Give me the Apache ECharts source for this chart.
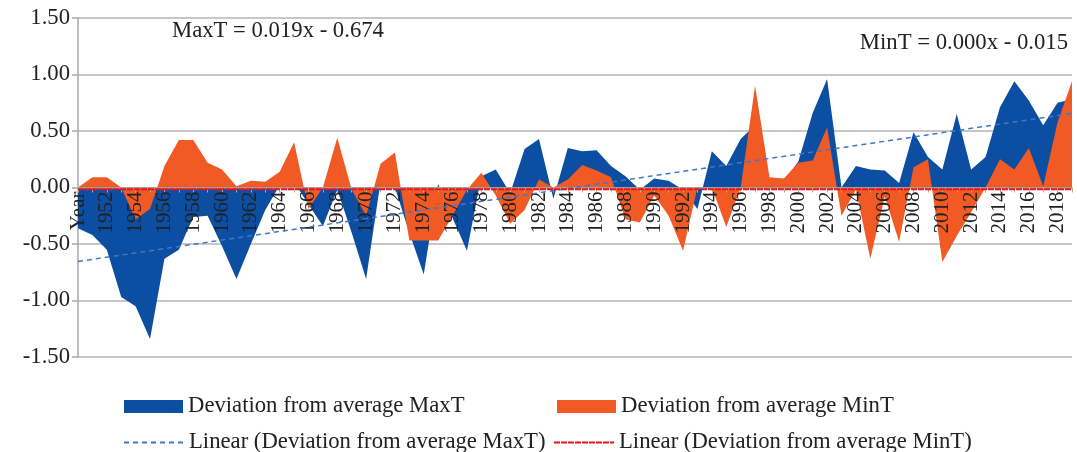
<!DOCTYPE html>
<html>
<head>
<meta charset="utf-8">
<script src="https://cdn.jsdelivr.net/npm/echarts@6/dist/echarts.min.js"></script>
<style>
  html, body { margin: 0; padding: 0; background: #ffffff; }
  #chart { width: 1077px; height: 452px; }
</style>
</head>
<body>
<div id="chart"></div>
<script>
// Category labels: the first slot carries the column header "Year"
const categories = ['Year', '1951', '1952', '1953', '1954', '1955', '1956', '1957', '1958', '1959',
  '1960', '1961', '1962', '1963', '1964', '1965', '1966', '1967', '1968', '1969',
  '1970', '1971', '1972', '1973', '1974', '1975', '1976', '1977', '1978', '1979',
  '1980', '1981', '1982', '1983', '1984', '1985', '1986', '1987', '1988', '1989',
  '1990', '1991', '1992', '1993', '1994', '1995', '1996', '1997', '1998', '1999',
  '2000', '2001', '2002', '2003', '2004', '2005', '2006', '2007', '2008', '2009',
  '2010', '2011', '2012', '2013', '2014', '2015', '2016', '2017', '2018', '2019'];

// Deviation from average maximum temperature
const maxTDeviation = [-0.36, -0.42, -0.55, -0.97, -1.05, -1.34, -0.63, -0.55, -0.26, -0.25,
  -0.52, -0.81, -0.50, -0.20, 0.02, 0.05, -0.15, -0.34, -0.02, -0.40,
  -0.81, 0.05, 0.00, -0.40, -0.77, 0.03, -0.27, -0.56, 0.10, 0.16,
  -0.05, 0.34, 0.43, -0.10, 0.35, 0.32, 0.33, 0.19, 0.10, -0.02,
  0.08, 0.06, -0.02, -0.19, 0.32, 0.19, 0.43, 0.55, 0.05, 0.05,
  0.23, 0.66, 0.96, 0.00, 0.19, 0.16, 0.15, 0.04, 0.49, 0.27,
  0.16, 0.65, 0.16, 0.27, 0.71, 0.94, 0.77, 0.55, 0.75, 0.78];

// Deviation from average minimum temperature
const minTDeviation = [0.00, 0.09, 0.09, 0.00, -0.28, -0.19, 0.19, 0.42, 0.42, 0.22,
  0.16, 0.01, 0.06, 0.05, 0.14, 0.40, -0.19, 0.00, 0.44, -0.02,
  -0.25, 0.21, 0.31, -0.47, -0.47, -0.47, -0.25, -0.02, 0.13, -0.07,
  -0.32, -0.20, 0.07, 0.00, 0.07, 0.20, 0.15, 0.09, -0.28, -0.31,
  -0.07, -0.25, -0.56, 0.00, 0.00, -0.35, 0.00, 0.90, 0.09, 0.08,
  0.22, 0.24, 0.53, -0.25, -0.02, -0.63, -0.08, -0.48, 0.18, 0.25,
  -0.66, -0.43, -0.22, 0.00, 0.25, 0.16, 0.35, 0.01, 0.58, 0.94];

// Linear trend coefficients (x = 1 .. n)
const maxTTrend = { slope: 0.019, intercept: -0.674 };
const minTTrend = { slope: 0.000, intercept: -0.015 };

const yTicks = { min: -1.5, max: 1.5, step: 0.5 };

const names = {
  maxT: 'Deviation from average MaxT',
  minT: 'Deviation from average MinT',
  maxTLin: 'Linear (Deviation from average MaxT)',
  minTLin: 'Linear (Deviation from average MinT)'
};

const BLUE = '#0b4ea2';
const ORANGE = '#f15a24';
const TREND_BLUE = '#3f78c8';
const TREND_RED = '#e8141c';
const SERIF = '"Liberation Serif", "Times New Roman", serif';
const TEXT = '#222222';
const FS = 22.7;

const GRID = { left: 78, right: 5, top: 18, bottom: 95 };
const plotHeight = 452 - GRID.top - GRID.bottom;
// lift the category axis from the bottom edge up to the zero line
const zeroOffset = -plotHeight * (0 - yTicks.min) / (yTicks.max - yTicks.min);

function trendEnds(t) {
  const n = categories.length;
  return [[0, t.slope * 1 + t.intercept], [n - 1, t.slope * n + t.intercept]];
}

const chart = echarts.init(document.getElementById('chart'), null, { renderer: 'canvas' });

function legendAt(name, left, top, w, h) {
  return {
    data: [name], left: left, top: top, padding: 0,
    itemWidth: w, itemHeight: h, itemGap: 0,
    textStyle: { fontFamily: SERIF, fontSize: FS, color: TEXT },
    icon: h > 4 ? 'rect' : undefined,
    selectedMode: false
  };
}

chart.setOption({
  animation: false,
  backgroundColor: '#ffffff',
  grid: Object.assign({ containLabel: false }, GRID),
  xAxis: {
    type: 'category',
    data: categories,
    boundaryGap: false,
    position: 'bottom',
    offset: zeroOffset,
    z: 3,
    axisLine: { onZero: false, lineStyle: { color: '#a8a8a8', width: 1.5 } },
    axisTick: { show: true, interval: 0, length: 5, lineStyle: { color: '#c2ae7c', width: 1 } },
    axisLabel: {
      interval: 1, rotate: 90, margin: 4,
      fontFamily: SERIF, fontSize: 21, color: TEXT
    },
    splitLine: { show: false }
  },
  yAxis: {
    type: 'value',
    min: yTicks.min, max: yTicks.max, interval: yTicks.step,
    axisLine: { show: true, lineStyle: { color: '#a8a8a8', width: 1.5 } },
    axisTick: { show: true, length: 6, lineStyle: { color: '#a8a8a8', width: 1.5 } },
    axisLabel: {
      margin: 8, fontFamily: SERIF, fontSize: FS, color: TEXT,
      formatter: v => v.toFixed(2)
    },
    splitLine: { show: true, lineStyle: { color: '#b4b4b4', width: 1.5 } }
  },
  legend: [
    legendAt(names.maxT, 124, 395, 59, 13),
    legendAt(names.minT, 557, 395, 59, 13),
    legendAt(names.maxTLin, 123, 431, 60, 2),
    legendAt(names.minTLin, 553, 431, 60, 2)
  ],
  graphic: [
    { type: 'text', left: 172, top: 20,
      style: { text: 'MaxT = 0.019x - 0.674', font: FS + 'px ' + SERIF, fill: TEXT } },
    { type: 'text', right: 9, top: 32,
      style: { text: 'MinT = 0.000x - 0.015', font: FS + 'px ' + SERIF, fill: TEXT } }
  ],
  series: [
    {
      name: names.maxTLin, type: 'line', data: trendEnds(maxTTrend),
      symbol: 'none', color: TREND_BLUE,
      lineStyle: { color: TREND_BLUE, width: 1.5, type: [5, 4] }
    },
    {
      name: names.maxT, type: 'line', data: maxTDeviation,
      symbol: 'none', color: BLUE,
      lineStyle: { width: 0 },
      areaStyle: { color: BLUE, opacity: 1, origin: 0 }
    },
    {
      name: names.minT, type: 'line', data: minTDeviation,
      symbol: 'none', color: ORANGE,
      lineStyle: { width: 0 },
      areaStyle: { color: ORANGE, opacity: 1, origin: 0 }
    },
    {
      name: names.minTLin, type: 'line', data: trendEnds(minTTrend),
      symbol: 'none', color: TREND_RED, z: 4,
      lineStyle: { color: TREND_RED, width: 2, type: [6, 1] }
    }
  ]
});
</script>
</body>
</html>
